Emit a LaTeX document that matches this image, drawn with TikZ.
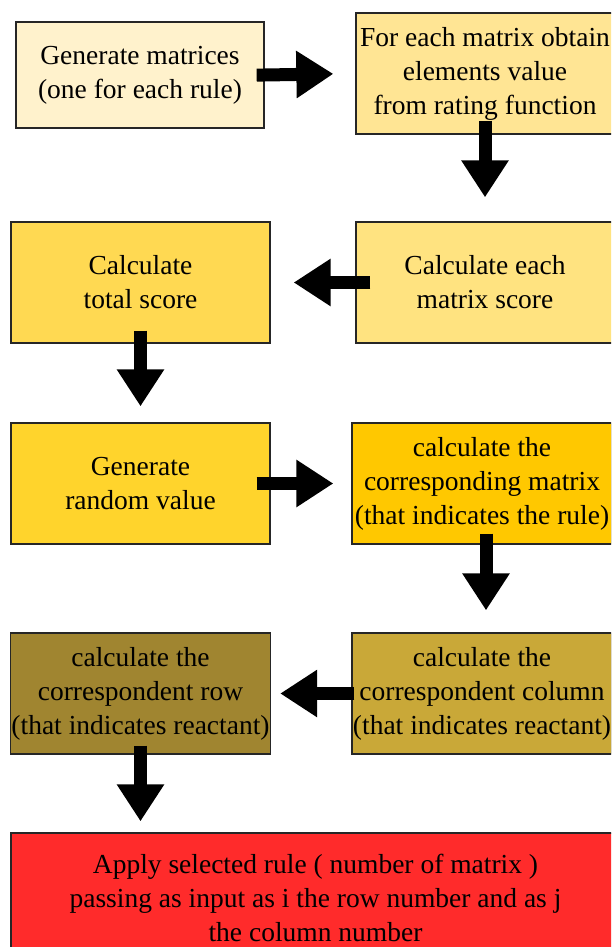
\documentclass[tikz,border=0pt]{standalone}
\usepackage{fontspec}
\setmainfont{Liberation Serif}
\usetikzlibrary{arrows.meta}
\definecolor{stageA}{HTML}{FFF2CC}
\definecolor{stageB}{HTML}{FFE594}
\definecolor{stageC}{HTML}{FFE380}
\definecolor{stageD}{HTML}{FFD952}
\definecolor{stageE}{HTML}{FFD42C}
\definecolor{stageF}{HTML}{FFC800}
\definecolor{stageG}{HTML}{C9A838}
\definecolor{stageH}{HTML}{A08530}
\definecolor{stageI}{HTML}{FF2B2B}
\begin{document}
\begin{tikzpicture}[x=1pt, y=-1pt,
    stage/.style={draw=black!85, line width=1.3pt, minimum width=#1, minimum height=121pt, inner sep=1pt, align=center, font=\fontsize{27.5}{34}\selectfont},
    flow/.style={line width=13pt, -{Triangle[length=37pt, width=45pt]}}
]
\clip (0,0) rectangle (611,947);
\node[stage=248pt, minimum height=106pt, fill=stageA] (b1) at (140,75) {Generate matrices\\(one for each rule)};
\node[stage=258pt, fill=stageB] (b2) at (485,73.5) {For each matrix obtain\\elements value\\from rating function};
\node[stage=258pt, fill=stageC] (b3) at (485,282.5) {Calculate each\\matrix score};
\node[stage=259pt, fill=stageD] (b4) at (140.5,282.5) {Calculate\\total score};
\node[stage=259pt, fill=stageE] (b5) at (140.5,483.5) {Generate\\random value};
\node[stage=260pt, fill=stageF] (b6) at (482,483.5) {calculate the\\corresponding matrix\\(that indicates the rule)};
\node[stage=260pt, fill=stageG] (b7) at (482,693.5) {calculate the\\correspondent column\\(that indicates reactant)};
\node[stage=259pt, fill=stageH] (b8) at (140.5,693.5) {calculate the\\correspondent row\\(that indicates reactant)};
\node[stage=609pt, minimum height=129pt, fill=stageI] (b9) at (315.5,897.5) {Apply selected rule ( number of matrix )\\passing as input as i the row number and as j\\the column number};
% block arrows between the steps
\draw[flow, shorten <=-8pt, shorten >=22pt] (b1.east) -- (b2.west);
\draw[flow, shorten <=-14pt, shorten >=24pt] (b2.south) -- (b3.north);
\draw[flow, shorten <=-15pt, shorten >=23pt] (b3.west) -- (b4.east);
\draw[flow, shorten <=-13pt, shorten >=16pt] (b4.south) -- (b5.north);
\draw[flow, shorten <=-14pt, shorten >=18pt] (b5.east) -- (b6.west);
\draw[flow, shorten <=-11pt, shorten >=22pt] ([xshift=4pt]b6.south) -- ([xshift=4pt]b6.south |- b7.north);
\draw[flow, shorten <=-3pt, shorten >=9pt] (b7.west) -- (b8.east);
\draw[flow, shorten <=-9pt, shorten >=11pt] (b8.south) -- (b8.south |- b9.north);
\end{tikzpicture}
\end{document}
